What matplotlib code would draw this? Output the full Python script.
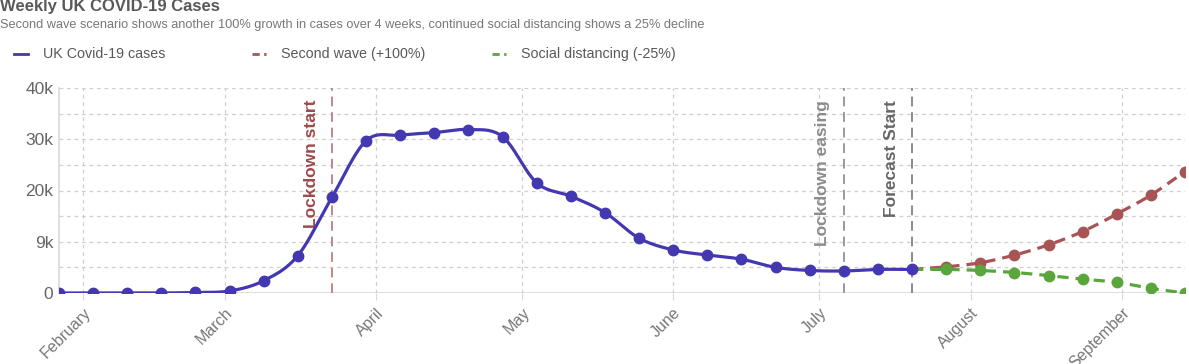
import numpy as np
import pandas as pd
import matplotlib
matplotlib.use("Agg")
import matplotlib.pyplot as plt
import matplotlib.dates as mdates
from matplotlib.lines import Line2D

# weekly observed cases (thousands)
weeks = pd.date_range("2020-01-27", "2020-07-20", freq="7D")
cases = [0.0, 0.0, 0.0, 0.0, 0.1, 0.4, 2.4, 7.3, 18.7, 29.7, 30.8, 31.3, 31.9, 30.5,
         21.5, 18.9, 15.7, 10.7, 8.4, 7.4, 6.6, 5.0, 4.4, 4.3, 4.6, 4.6]

# forecast weeks (start at last observed week)
fc_weeks = pd.date_range("2020-07-20", "2020-09-14", freq="7D")
second_wave = [4.6, 5.1, 5.9, 7.4, 9.4, 12.0, 15.4, 19.1, 23.7]
social_dist = [4.6, 4.6, 4.4, 4.0, 3.4, 2.7, 2.1, 0.9, 0.0]

events = [("Lockdown start", "2020-03-23"), ("Lockdown easing", "2020-07-06"),
          ("Forecast Start", "2020-07-20")]
event_line_colors = ["#c08888", "#9a9a9a", "#8a8a8a"]
event_text_colors = ["#9e4a4a", "#8c8c8c", "#666666"]

y_ticks = [0, 10, 20, 30, 40]
y_labels = ["0", "9k", "20k", "30k", "40k"]

BLUE = "#4338b0"
RED = "#a85454"
GREEN = "#5aa63c"

sans = ["Liberation Sans", "DejaVu Sans"]


def smooth(x, y, n=20):
    # catmull-rom curve through the points, for drawing only
    x = np.asarray(x, float)
    y = np.asarray(y, float)
    px = np.concatenate([[2 * x[0] - x[1]], x, [2 * x[-1] - x[-2]]])
    py = np.concatenate([[2 * y[0] - y[1]], y, [2 * y[-1] - y[-2]]])
    xs, ys = [], []
    t = np.linspace(0, 1, n, endpoint=False)
    for i in range(1, len(px) - 2):
        for p, out in ((px, xs), (py, ys)):
            p0, p1, p2, p3 = p[i - 1], p[i], p[i + 1], p[i + 2]
            out.append(0.5 * ((2 * p1) + (-p0 + p2) * t
                              + (2 * p0 - 5 * p1 + 4 * p2 - p3) * t ** 2
                              + (-p0 + 3 * p1 - 3 * p2 + p3) * t ** 3))
    xs.append([x[-1]])
    ys.append([y[-1]])
    return np.concatenate(xs), np.concatenate(ys)


fig = plt.figure(figsize=(11.89, 3.64), dpi=100)
ax = fig.add_axes([59 / 1189, 1 - 293 / 364, (1185 - 59) / 1189, (293 - 88) / 364])

xw = mdates.date2num(weeks)
xf = mdates.date2num(fc_weeks)

# grid
for yv in np.arange(5, 41, 5):
    ax.axhline(yv, color="#cfcfcf", lw=0.9, ls=(0, (3, 3)), zorder=0)
ax.axhline(0, color="#d9d9d9", lw=1.2, zorder=0)
months = pd.date_range("2020-02-01", "2020-09-01", freq="MS")
for m in months:
    ax.axvline(mdates.date2num(m), color="#cfcfcf", lw=0.9, ls=(0, (3, 3)), zorder=0)

# event lines + labels
for (label, d), lc, tc in zip(events, event_line_colors, event_text_colors):
    xd = mdates.date2num(pd.Timestamp(d))
    ax.axvline(xd, color=lc, lw=1.4, ls=(0, (5, 3)), zorder=1)
    ax.text(xd - 4.3, 37.7, label, rotation=90, ha="center", va="top",
            color=tc, fontsize=12.5, fontweight="bold", family=sans)

# forecasts
for vals, col in ((second_wave, RED), (social_dist, GREEN)):
    sx, sy = smooth(xf, vals)
    ax.plot(sx, sy, color=col, lw=2.3, ls=(0, (3.5, 2.2)), zorder=2)
    ax.plot(xf[1:], vals[1:], "o", color=col, ms=7.5, zorder=3)

# observed
sx, sy = smooth(xw, cases)
ax.plot(sx, sy, color=BLUE, lw=2.3, zorder=4)
ax.plot(xw, cases, "o", color=BLUE, ms=7.5, zorder=5)

ax.set_xlim(xw[0], xf[-1])
ax.set_ylim(0, 40)
ax.set_yticks(y_ticks)
ax.set_yticklabels(y_labels, family=sans)
ax.set_xticks(mdates.date2num(months))
ax.set_xticklabels([m.strftime("%B") for m in months], rotation=45,
                   ha="right", rotation_mode="anchor", family=sans)
ax.tick_params(axis="y", length=0, labelsize=12.5, labelcolor="#666666", pad=4)
ax.tick_params(axis="x", length=5, color="#d9d9d9", labelsize=11.5,
               labelcolor="#777777", pad=4)
for s in ("top", "right", "bottom"):
    ax.spines[s].set_visible(False)
ax.spines["left"].set_color("#d9d9d9")
ax.spines["left"].set_linewidth(1.2)

# titles
fig.text(0.0, 1 - 7 / 364, "Weekly UK COVID-19 Cases", fontsize=12, fontweight="bold",
         color="#595959", va="center", family=sans)
fig.text(0.0, 1 - 25 / 364,
         "Second wave scenario shows another 100% growth in cases over 4 weeks, "
         "continued social distancing shows a 25% decline",
         fontsize=9.2, color="#777777", va="center", family=sans)

# legend
legend_items = [("UK Covid-19 cases", BLUE, "-", 14), ("Second wave (+100%)", RED, "--", 252),
                ("Social distancing (-25%)", GREEN, "--", 492)]
ly = 1 - 54 / 364
for label, col, ls, px in legend_items:
    fig.add_artist(Line2D([px / 1189, (px + 14) / 1189], [ly, ly], color=col, lw=2,
                          ls=(0, (2.6, 1.6)) if ls == "--" else "-"))
    fig.text((px + 29) / 1189, ly, label, fontsize=10.3, color="#595959",
             va="center", family=sans)

fig.savefig("out.png", dpi=100)
